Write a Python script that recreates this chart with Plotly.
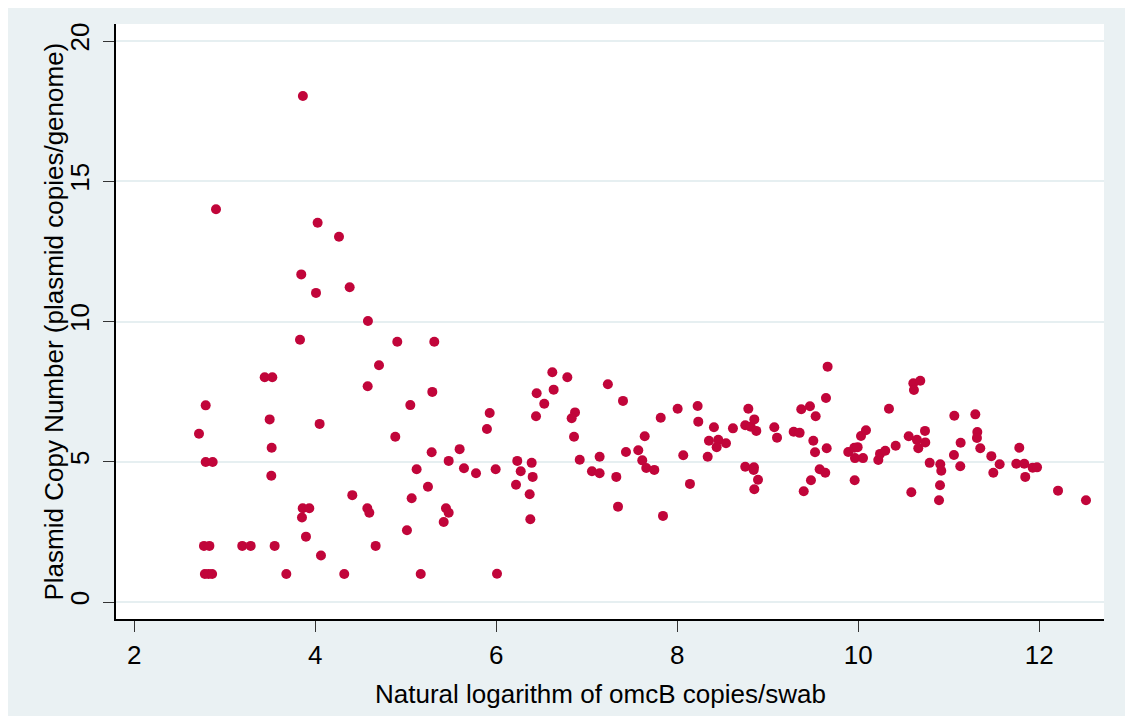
import plotly.graph_objects as go

# ln(omcB copies/swab)
x_vals = [
    3.863, 2.903, 4.026, 4.262, 3.845, 4.380, 4.008, 4.582, 3.831, 4.906, 5.315,
    4.704, 3.441, 3.525, 4.579, 5.293, 2.789, 5.050, 3.496, 4.048, 2.715, 4.884,
    3.518, 5.286, 5.595, 2.789, 2.866, 5.474, 5.120, 5.643, 3.514, 5.245, 4.409,
    5.065, 3.861, 3.934, 3.853, 4.575, 4.597, 5.444, 5.474, 5.419, 3.897, 5.013,
    2.770, 2.830, 3.193, 3.286, 3.551, 4.667, 4.063, 2.780, 2.820, 2.860, 3.680,
    4.320, 5.165,
    6.619, 6.785, 6.446, 6.634, 7.233, 6.530, 7.400, 5.927, 6.870, 6.833, 6.439,
    5.897, 6.859, 7.817, 8.004, 8.225, 8.232, 8.405, 8.615, 8.350, 8.453, 8.435,
    8.538, 7.640, 7.569, 7.433, 7.613, 7.657, 7.746, 8.066, 8.336, 8.140, 7.842,
    7.345, 7.326, 7.142, 7.057, 7.142, 6.922, 5.776, 5.993, 6.232, 6.270, 6.391,
    6.402, 6.218, 6.369, 6.376, 6.008,
    8.785, 8.751, 8.811, 8.851, 8.873, 9.072, 9.102, 9.286, 9.352, 9.370, 9.466,
    9.529, 9.643, 9.661, 9.503, 9.522, 9.651, 9.573, 9.635, 9.477, 9.397, 8.751,
    8.847, 8.844, 8.892, 8.851, 9.889, 9.956, 9.993, 9.963, 10.052, 9.960, 10.030,
    10.085, 10.221, 10.240, 10.298, 10.413, 10.339, 10.557, 10.608, 10.615, 10.685,
    10.648, 10.663, 10.737, 10.740, 10.586, 10.789, 10.906, 10.917, 10.903, 10.892,
    11.061, 11.057, 11.131, 11.127, 11.293, 11.315, 11.311, 11.348, 11.470, 11.492,
    11.562, 11.779, 11.746, 11.834, 11.845, 11.927, 11.975, 12.207, 12.516,
]

# Plasmid copy number (plasmid copies/genome)
y_vals = [
    18.04, 14.00, 13.52, 13.02, 11.68, 11.22, 11.02, 10.02, 9.35, 9.28, 9.28,
    8.44, 8.01, 8.01, 7.69, 7.49, 7.01, 7.02, 6.51, 6.35, 6.00, 5.89,
    5.50, 5.34, 5.45, 4.99, 4.99, 5.03, 4.73, 4.77, 4.50, 4.11, 3.81,
    3.70, 3.34, 3.34, 3.01, 3.34, 3.18, 3.34, 3.18, 2.85, 2.33, 2.56,
    2.00, 2.00, 2.00, 2.00, 2.00, 2.00, 1.66, 1.00, 1.00, 1.00, 1.00,
    1.00, 1.00,
    8.19, 8.01, 7.44, 7.57, 7.76, 7.07, 7.17, 6.74, 6.76, 6.55, 6.62,
    6.17, 5.89, 6.57, 6.89, 6.99, 6.43, 6.23, 6.19, 5.75, 5.78, 5.52,
    5.66, 5.91, 5.41, 5.35, 5.05, 4.78, 4.71, 5.23, 5.18, 4.21, 3.07,
    3.40, 4.46, 5.18, 4.66, 4.59, 5.07, 4.59, 4.73, 5.03, 4.66, 4.96,
    4.46, 4.18, 3.84, 2.95, 1.01,
    6.89, 6.30, 6.25, 6.51, 6.10, 6.23, 5.86, 6.07, 6.03, 6.87, 6.98,
    6.62, 7.27, 8.39, 5.75, 5.34, 5.48, 4.73, 4.61, 4.34, 3.95, 4.82,
    4.80, 4.71, 4.36, 4.02, 5.35, 5.50, 5.52, 5.13, 5.13, 4.34, 5.92,
    6.12, 5.06, 5.28, 5.39, 5.57, 6.89, 5.91, 7.80, 7.56, 7.89,
    5.78, 5.48, 6.10, 5.69, 3.91, 4.96, 4.91, 4.68, 4.16, 3.63,
    6.64, 5.24, 5.68, 4.84, 6.69, 6.06, 5.85, 5.48, 5.20, 4.61,
    4.91, 5.50, 4.93, 4.93, 4.46, 4.79, 4.80, 3.97, 3.63,
]

x_ticks = [2, 4, 6, 8, 10, 12]
y_ticks = [0, 5, 10, 15, 20]
x_title = "Natural logarithm of omcB copies/swab"
y_title = "Plasmid Copy Number (plasmid copies/genome)"

BG = "#EAF1F3"
GRID = "#E6EFF1"
MARK = "#C1053A"
FONT = "Liberation Sans, Arial, sans-serif"

fig = go.Figure()
fig.add_trace(go.Scatter(
    x=x_vals, y=y_vals, mode="markers",
    marker=dict(color=MARK, size=10, line=dict(width=0)),
    showlegend=False, hoverinfo="x+y",
))

# page body has an 8px margin; figure occupies screen 8..1133 x 8..720
OFF = 8
W, H = 1133 - OFF, 720 - OFF
L, T = 116 - OFF, 24 - OFF
R = W - (1104 - OFF)
B = H - (619 - OFF)
pw, ph = W - L - R, H - T - B

def px_x(p):
    # screen px -> paper x
    return (p - OFF - L) / pw

def px_y(p):
    # screen px -> paper y
    return (T + ph - (p - OFF)) / ph

shapes = [
    dict(type="rect", xref="paper", yref="paper", x0=px_x(OFF), x1=px_x(1133),
         y0=px_y(720), y1=px_y(716), fillcolor="white", line=dict(width=0), layer="below"),
]

annotations = [
    dict(text=x_title, xref="paper", yref="paper", x=px_x(600.5), y=px_y(693.5),
         xanchor="center", yanchor="middle", showarrow=False,
         font=dict(size=26, family=FONT, color="black")),
    dict(text=y_title, xref="paper", yref="paper", x=px_x(53.5), y=px_y(322),
         xanchor="center", yanchor="middle", showarrow=False, textangle=-90,
         font=dict(size=26, family=FONT, color="black")),
]

fig.update_layout(
    width=W, height=H,
    margin=dict(l=L, r=R, t=T, b=B, pad=0, autoexpand=False),
    paper_bgcolor=BG, plot_bgcolor="white",
    font=dict(family=FONT, size=26, color="black"),
    shapes=shapes, annotations=annotations,
    xaxis=dict(
        range=[1.798, 12.715], tickvals=x_ticks, ticks="outside", ticklen=11,
        tickwidth=1.2, tickcolor="#333333", showline=True, linecolor="black",
        linewidth=1.5, showgrid=False, zeroline=False,
        tickfont=dict(size=26, family=FONT, color="black"),
        ticklabelstandoff=1, automargin=False,
    ),
    yaxis=dict(
        range=[-0.606, 20.606], tickvals=y_ticks, ticks="outside", ticklen=11,
        tickwidth=1.2, tickcolor="#333333", showline=True, linecolor="black",
        linewidth=1.5, showgrid=True, gridcolor=GRID, gridwidth=2, zeroline=False,
        tickangle=-90,
        tickfont=dict(size=26, family=FONT, color="black"),
        ticklabelstandoff=4, automargin=False,
    ),
)

fig.write_html("out.html")
